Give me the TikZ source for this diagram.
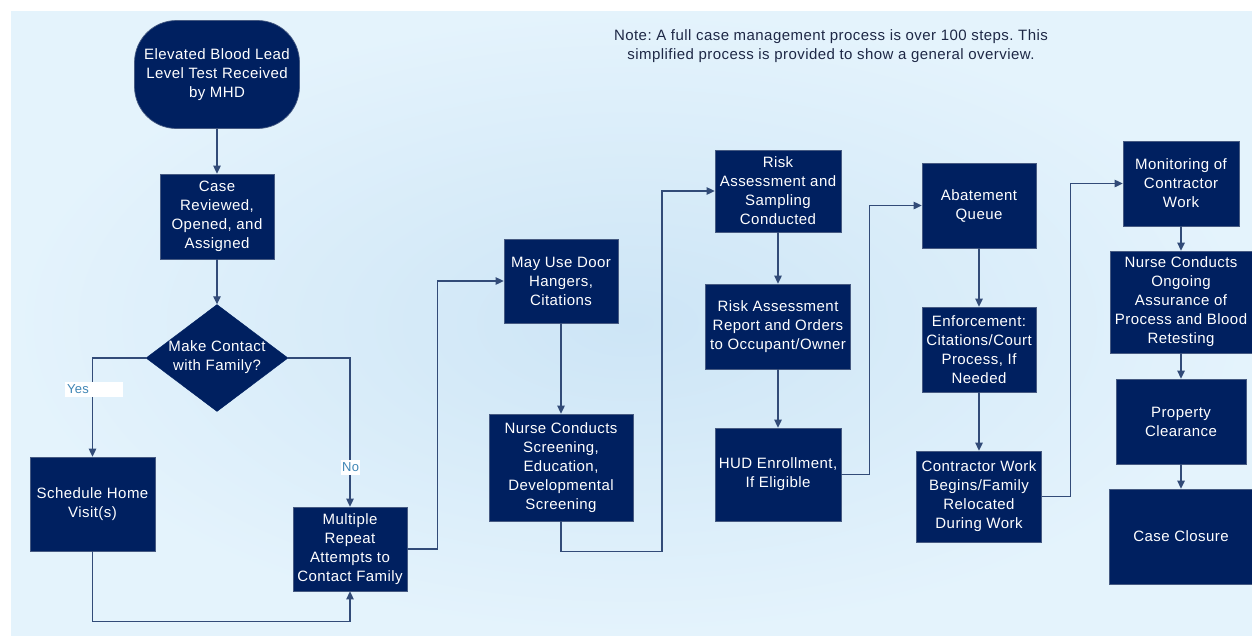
\documentclass[tikz,border=0pt]{standalone}
\usepackage{fontspec}
\newfontfamily\diafont{Liberation Sans}[LetterSpace=3]
\usetikzlibrary{arrows.meta,shapes.geometric}
\definecolor{navy}{RGB}{0,32,96}
\definecolor{boxedge}{RGB}{70,90,130}
\definecolor{lineblue}{RGB}{50,75,120}
\definecolor{lblblue}{RGB}{63,134,181}
\definecolor{notecol}{RGB}{30,40,70}
\definecolor{bgin}{RGB}{205,229,246}
\definecolor{bgout}{RGB}{228,243,252}
\frenchspacing
\tikzset{
  procbox/.style={fill=navy, draw=boxedge, line width=0.7pt, text=white,
    font=\diafont\fontsize{15}{19}\selectfont, align=center, inner sep=0pt},
  startbox/.style={procbox, rounded corners=42pt},
  decbox/.style={diamond, fill=navy, draw=navy, inner sep=0pt},
  txt/.style={text=white, font=\diafont\fontsize{15}{19}\selectfont, align=center, inner sep=0pt},
  conn/.style={draw=lineblue, line width=1.1pt, -{Triangle[length=8pt,width=7.5pt]}},
  branchlbl/.style={fill=white, text=lblblue, font=\diafont\fontsize{13}{15}\selectfont, inner sep=1pt},
  notetxt/.style={text=notecol, font=\diafont\fontsize{15}{19}\selectfont, align=center, inner sep=0pt}
}
\begin{document}
\begin{tikzpicture}[x=1pt,y=-1pt]
\useasboundingbox (0,0) rectangle (1252,635);
\fill[white] (0,0) rectangle (1252,635);
\shade[inner color=bgin, outer color=bgout] (11,11) rectangle (1252,635);

% nodes
\node[startbox, minimum width=165pt, minimum height=108pt] (start) at (217,74.5) {Elevated Blood Lead\\Level Test Received\\by MHD};
\node[procbox, minimum width=114pt, minimum height=85pt] (case) at (217,216.5) {Case\\Reviewed,\\Opened, and\\Assigned};
\node[decbox, minimum width=142pt, minimum height=107pt] (dia) at (217,358) {};
\node[txt] (diatxt) at (217,357.5) {Make Contact\\with Family?};
\node[procbox, minimum width=125pt, minimum height=94pt] (sched) at (92.5,504) {Schedule Home\\Visit(s)};
\node[procbox, minimum width=114pt, minimum height=84pt] (multi) at (350,549) {Multiple\\Repeat\\Attempts to\\Contact Family};
\node[procbox, minimum width=114pt, minimum height=84pt] (door) at (561,281) {May Use Door\\Hangers,\\Citations};
\node[procbox, minimum width=144pt, minimum height=107pt] (nurse) at (561,467.5) {Nurse Conducts\\Screening,\\Education,\\Developmental\\Screening};
\node[procbox, minimum width=126pt, minimum height=82pt] (risk) at (778,191) {Risk\\Assessment and\\Sampling\\Conducted};
\node[procbox, minimum width=145pt, minimum height=85pt] (report) at (778,326.5) {Risk Assessment\\Report and Orders\\to Occupant/Owner};
\node[procbox, minimum width=126pt, minimum height=93pt] (hud) at (778,474.5) {HUD Enrollment,\\If Eligible};
\node[procbox, minimum width=114pt, minimum height=85pt] (abate) at (979,205.5) {Abatement\\Queue};
\node[procbox, minimum width=114pt, minimum height=85pt] (enf) at (979,349.5) {Enforcement:\\Citations/Court\\Process, If\\Needed};
\node[procbox, minimum width=125pt, minimum height=91pt] (contr) at (979,496.5) {Contractor Work\\Begins/Family\\Relocated\\During Work};
\node[procbox, minimum width=116pt, minimum height=85pt] (mon) at (1181,183.5) {Monitoring of\\Contractor\\Work};
\node[procbox, minimum width=142pt, minimum height=102pt] (ongo) at (1181,302) {Nurse Conducts\\Ongoing\\Assurance of\\Process and Blood\\Retesting};
\node[procbox, minimum width=130pt, minimum height=85pt] (prop) at (1181,421.5) {Property\\Clearance};
\node[procbox, minimum width=143pt, minimum height=95pt] (close) at (1181,536.5) {Case Closure};

\node[notetxt] (note) at (831,46) {Note: A full case management process is over 100 steps. This\\simplified process is provided to show a general overview.};

% connectors
\draw[conn] (start.south) -- (case.north);
\draw[conn] (case.south) -- (dia.north);
\draw[conn] (dia.west) -| (sched.north);
\draw[conn] (dia.east) -| (multi.north);
\draw[conn] (sched.south) -- ++(0,70) -| (multi.south);
\draw[conn] (multi.east) -- ++(30,0) |- (door.west);
\draw[conn] (door.south) -- (nurse.north);
\draw[conn] (nurse.south) -- ++(0,30) -- ++(101,0) |- (risk.west);
\draw[conn] (risk.south) -- (report.north);
\draw[conn] (report.south) -- (hud.north);
\draw[conn] (hud.east) -- ++(28,0) |- (abate.west);
\draw[conn] (abate.south) -- (enf.north);
\draw[conn] (enf.south) -- (contr.north);
\draw[conn] (contr.east) -- ++(29,0) |- (mon.west);
\draw[conn] (mon.south) -- (ongo.north);
\draw[conn] (ongo.south) -- (prop.north);
\draw[conn] (prop.south) -- (close.north);

% branch labels
\node[branchlbl, minimum width=58pt, minimum height=15pt, text width=54pt, align=left] (yes) at (94,389.5) {Yes};
\node[branchlbl, minimum height=15pt] (no) at (350.5,467) {No};
\end{tikzpicture}
\end{document}
